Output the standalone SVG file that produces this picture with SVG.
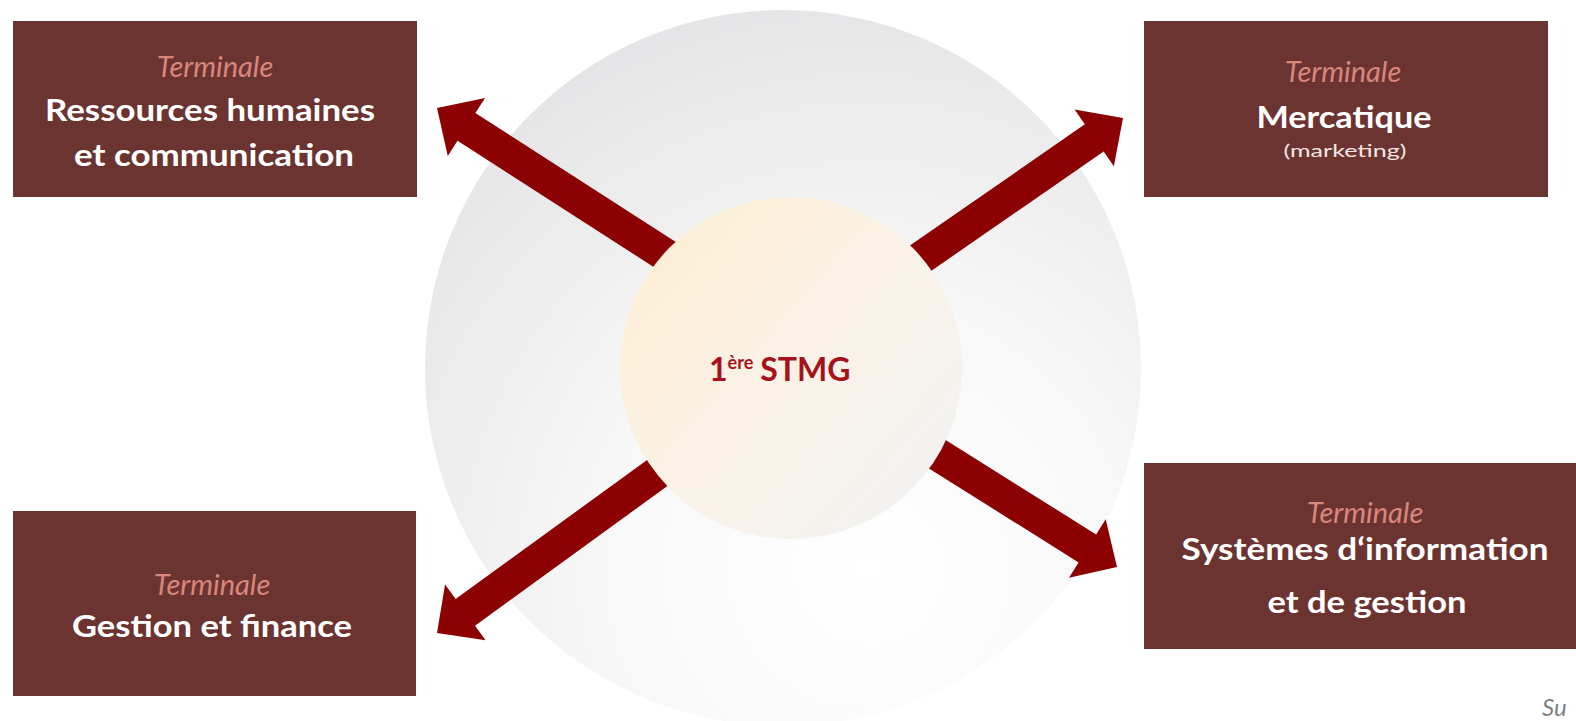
<svg xmlns="http://www.w3.org/2000/svg" width="1576" height="721" viewBox="0 0 1576 721">
<style>
.box{fill:#6c3431}
.term{font-family:Lato,"Liberation Sans",sans-serif;font-style:italic;font-size:29px;fill:#d8877d;text-anchor:middle}
.main{font-family:Lato,"Liberation Sans",sans-serif;font-weight:bold;font-size:30px;fill:#ffffff;text-anchor:middle}
.small{font-family:Lato,"Liberation Sans",sans-serif;font-size:17px;fill:#f4e6e3;text-anchor:middle}
.arrow{fill:#8c0202}
.center{font-family:Lato,"Liberation Sans",sans-serif;font-weight:bold;fill:#a6121a}
</style>
<defs>
<radialGradient id="bigGrad" cx="0.62" cy="0.78" r="0.8" fx="0.62" fy="0.78">
<stop offset="0" stop-color="#ffffff"/>
<stop offset="0.45" stop-color="#f8f8f8"/>
<stop offset="1" stop-color="#e5e5e7"/>
</radialGradient>
<linearGradient id="innerGrad" x1="0.1" y1="0.15" x2="0.9" y2="0.85">
<stop offset="0" stop-color="#fdefd6"/>
<stop offset="0.5" stop-color="#faf2e7"/>
<stop offset="1" stop-color="#f3f2f1"/>
</linearGradient>
</defs>
<rect width="1576" height="721" fill="#ffffff"/>
<g id="background">
<circle cx="783" cy="368" r="358" fill="url(#bigGrad)"/>
</g>
<g id="connectors">
<path class="arrow" transform="translate(437,108) rotate(-147.25)" d="M0,0 L-35,-34.5 L-35,-16.5 L-331,-16.5 L-331,16.5 L-35,16.5 L-35,34.5 Z"/>
<path class="arrow" transform="translate(1123,118) rotate(-34.7)" d="M0,0 L-35,-34.5 L-35,-16.5 L-305,-16.5 L-305,16.5 L-35,16.5 L-35,34.5 Z"/>
<path class="arrow" transform="translate(437,633) rotate(144)" d="M0,0 L-35,-34.5 L-35,-16.5 L-335,-16.5 L-335,16.5 L-35,16.5 L-35,34.5 Z"/>
<path class="arrow" transform="translate(1117,567) rotate(32.1)" d="M0,0 L-35,-34.5 L-35,-16.5 L-276,-16.5 L-276,16.5 L-35,16.5 L-35,34.5 Z"/>
</g>
<g id="center">
<circle cx="791" cy="368" r="171" fill="url(#innerGrad)"/>
<text class="center" x="709" y="381" font-size="32">1<tspan font-size="18" dy="-12">ère</tspan><tspan dy="12" dx="7">STMG</tspan></text>
</g>
<g id="node-rh">
<rect class="box" x="13" y="21" width="404" height="176"/>
<text class="term" x="215" y="77">Terminale</text>
<text class="main" x="210" y="121" textLength="330" lengthAdjust="spacingAndGlyphs">Ressources humaines</text>
<text class="main" x="214" y="166" textLength="280" lengthAdjust="spacingAndGlyphs">et communication</text>
</g>
<g id="node-mercatique">
<rect class="box" x="1144" y="21" width="404" height="176"/>
<text class="term" x="1343" y="82">Terminale</text>
<text class="main" x="1344" y="128" textLength="175" lengthAdjust="spacingAndGlyphs">Mercatique</text>
<text class="small" x="1345" y="157" textLength="123" lengthAdjust="spacingAndGlyphs">(marketing)</text>
</g>
<g id="node-gf">
<rect class="box" x="13" y="511" width="403" height="185"/>
<text class="term" x="212" y="595">Terminale</text>
<text class="main" x="212" y="637" textLength="280" lengthAdjust="spacingAndGlyphs">Gestion et finance</text>
</g>
<g id="node-sig">
<rect class="box" x="1144" y="463" width="446" height="186"/>
<text class="term" x="1365" y="523">Terminale</text>
<text class="main" x="1365" y="560" textLength="367" lengthAdjust="spacingAndGlyphs">Systèmes d‘information</text>
<text class="main" x="1367" y="613" textLength="199" lengthAdjust="spacingAndGlyphs">et de gestion</text>
</g>
<text x="1542" y="716" font-family="Lato,'Liberation Sans',sans-serif" font-style="italic" font-size="24" fill="#7f7f7f">Su</text>
</svg>
